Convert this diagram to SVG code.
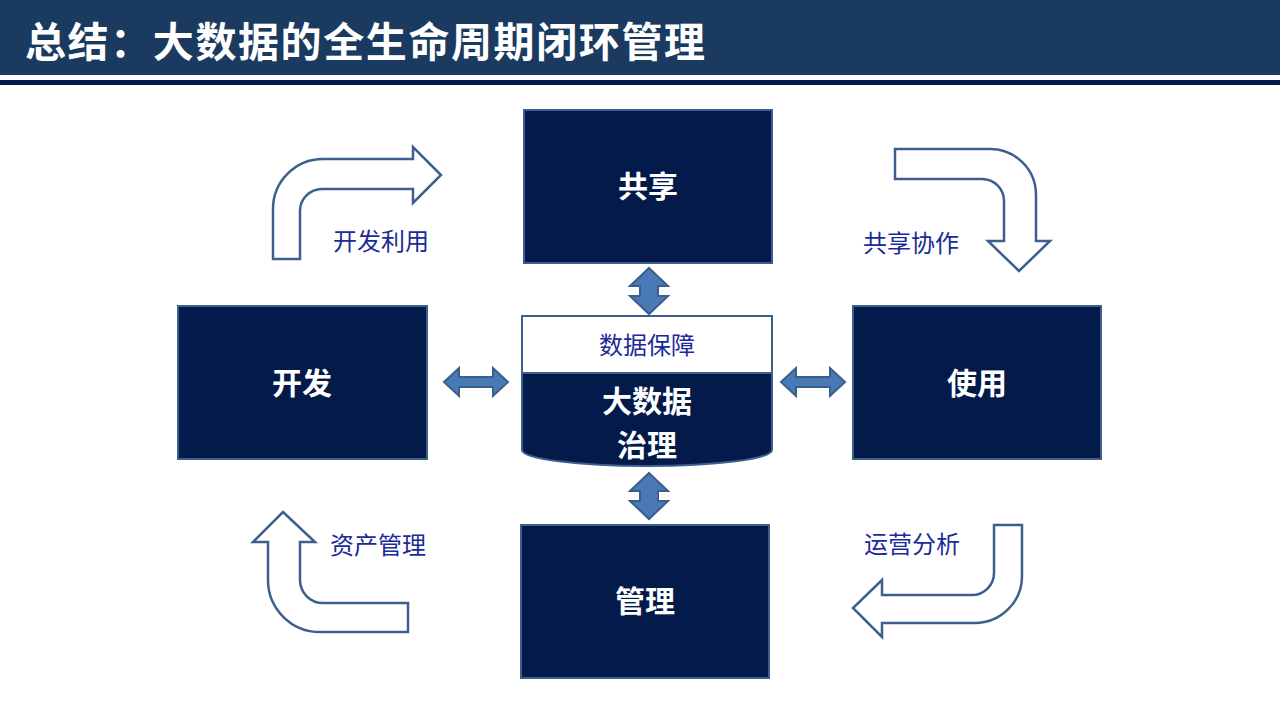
<svg xmlns="http://www.w3.org/2000/svg" width="1280" height="720" viewBox="0 0 1280 720">
<style>
.box{fill:#031a4b;stroke:#3d5f8e;stroke-width:2}
.bl{font-family:"Noto Sans CJK SC","Noto Sans",sans-serif;font-weight:bold;fill:#fff;text-anchor:middle}
.lab{font-family:"Noto Sans CJK SC","Noto Sans",sans-serif;font-size:24px;fill:#1a2a98}
.bent{fill:#fff;stroke:#3d5f8e;stroke-width:2.5;stroke-linejoin:miter}
.dbl{fill:#4a7ab5;stroke:#3a5f8e;stroke-width:2}
</style>
<rect width="1280" height="720" fill="#fff"/>
<g id="header">
<rect x="0" y="0" width="1280" height="75" fill="#1a3a60"/>
<rect x="0" y="80" width="1280" height="5" fill="#0a1a4a"/>
<text x="25" y="57" font-family="'Noto Sans CJK SC',sans-serif" font-weight="bold" font-size="41" fill="#fff" textLength="680" lengthAdjust="spacing">总结：大数据的全生命周期闭环管理</text>
</g>
<g id="node-share"><rect class="box" x="524" y="110" width="248" height="153"/><text class="bl" x="648" y="197" font-size="30">共享</text></g>
<g id="node-dev"><rect class="box" x="178" y="306" width="249" height="153"/><text class="bl" x="302" y="394" font-size="30">开发</text></g>
<g id="node-use"><rect class="box" x="853" y="306" width="248" height="153"/><text class="bl" x="977" y="394" font-size="30">使用</text></g>
<g id="node-manage"><rect class="box" x="521" y="525" width="248" height="153"/><text class="bl" x="645" y="612" font-size="30">管理</text></g>
<g id="node-gov">
<path class="box" d="M522,373 L772,373 L772,450 A125,16 0 0 1 522,450 Z"/>
<rect x="522" y="316" width="250" height="57" fill="#fff" stroke="#3d5f8e" stroke-width="2"/>
<text x="647" y="354" font-family="'Noto Sans CJK SC',sans-serif" font-size="24" fill="#1a2a98" text-anchor="middle">数据保障</text>
<text class="bl" x="647" y="412" font-size="30">大数据</text>
<text class="bl" x="647" y="456" font-size="30">治理</text>
</g>
<g id="connectors">
<path class="dbl" d="M649,268 L668,286 L658,286 L658,296 L668,296 L649,314 L630,296 L640,296 L640,286 L630,286 Z"/>
<path class="dbl" d="M649,473 L668,491 L658,491 L658,501 L668,501 L649,519 L630,501 L640,501 L640,491 L630,491 Z"/>
<path class="dbl" d="M444,382 L459,368 L459,377 L493,377 L493,368 L508,382 L493,396 L493,387 L459,387 L459,396 Z"/>
<path class="dbl" d="M781,382 L796,368 L796,377 L830,377 L830,368 L845,382 L830,396 L830,387 L796,387 L796,396 Z"/>
<path class="bent" d="M273,259 L273,209 A50,50 0 0 1 323,159 L413,159 L413,147 L441,175 L413,203 L413,189 L322,189 A22,22 0 0 0 300,211 L300,259 Z"/>
<path class="bent" d="M895,149 L990,149 A46,46 0 0 1 1036,195 L1036,241 L1050,241 L1019,271 L988,241 L1004,241 L1004,201 A22,22 0 0 0 982,179 L895,179 Z"/>
<path class="bent" d="M283,512 L315,542 L300,542 L300,580 A23,23 0 0 0 323,603 L408,603 L408,632 L320,632 A52,52 0 0 1 268,580 L268,542 L253,542 Z"/>
<path class="bent" d="M994,525 L1022,525 L1022,576 A47,47 0 0 1 975,623 L882,623 L882,637 L853,608 L882,580 L882,595 L972,595 A22,22 0 0 0 994,573 Z"/>
<text class="lab" x="333" y="250">开发利用</text>
<text class="lab" x="863" y="252">共享协作</text>
<text class="lab" x="330" y="554">资产管理</text>
<text class="lab" x="864" y="553">运营分析</text>
</g>
</svg>
